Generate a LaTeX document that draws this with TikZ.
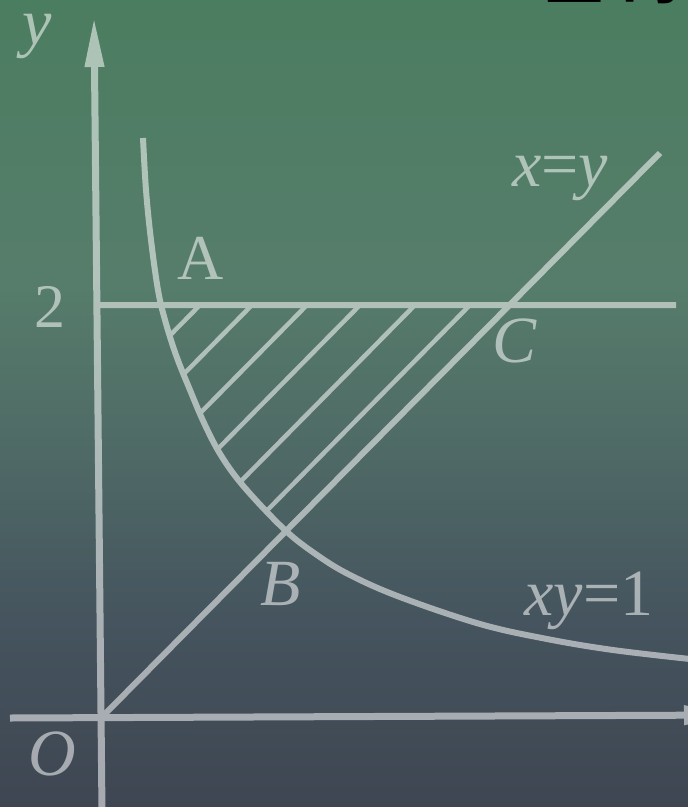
\documentclass[tikz,border=0pt]{standalone}
\usepackage{fontspec}
\setmainfont{Liberation Serif}
\newfontfamily\cjk{Noto Sans CJK SC}
\usetikzlibrary{arrows.meta,intersections}
\definecolor{bgA}{HTML}{4B7D60}
\definecolor{bgB}{HTML}{567D6B}
\definecolor{bgC}{HTML}{4F6A66}
\definecolor{bgD}{HTML}{45545E}
\definecolor{bgE}{HTML}{3E4652}
\tikzset{
  chalk/.style={draw=white, line width=6pt},
  axisline/.style={chalk, line width=7pt, -{Triangle[length=50pt,width=18pt]}},
  hatchline/.style={chalk, line width=4.5pt},
  lab/.style={text=white, font=\fontsize{66}{66}\selectfont\itshape, inner sep=0pt},
  cjklab/.style={text=black, font=\cjk\bfseries\fontsize{58}{58}\selectfont, inner sep=0pt},
}
\begin{document}
\begin{tikzpicture}[x=1pt,y=-1pt]
\useasboundingbox (0,0) rectangle (688,807);
% background
\fill[top color=bgA,bottom color=bgB] (0,0) rectangle (688,280);
\fill[top color=bgB,bottom color=bgC] (0,279.5) rectangle (688,450);
\fill[top color=bgC,bottom color=bgD] (0,449.5) rectangle (688,620);
\fill[top color=bgD,bottom color=bgE] (0,619.5) rectangle (688,807);
% cut-off heading
\node[cjklab, anchor=base] (t1) at (574,-2) {生};
\node[cjklab, anchor=base west] (t2) at (622,-2) {的};

\coordinate (o) at (102,717);
\coordinate (ybot) at (102,812);
\coordinate (ytip) at (94,17);
\coordinate (xleft) at (10,718);
\coordinate (xtip) at (734,715);
\coordinate (dend) at (660,153);
\coordinate (hl) at (98,305);
\coordinate (hr) at (676,305);

\begin{scope}[transparency group, opacity=0.54]
  % axes
  \draw[axisline] (ybot) -- (ytip);
  \draw[axisline] (xleft) -- (xtip);
  % y = 2 and x = y
  \draw[chalk] (hl) -- (hr);
  \draw[chalk] (o) -- (dend);
  % xy = 1
  \draw[chalk, name path=curve] plot[smooth, tension=0.6] coordinates {
    (143,138) (146,190) (151,240) (158,290) (165,320) (176,355) (190,390)
    (205,425) (222,457) (245,488) (285,530) (317,555) (350,575) (400,597)
    (480,624) (547,639) (613,650) (690,659)};
  % hatching
  \foreach \hx [count=\i] in {200,252,307,360,415,470} {
    \path[name path=hp\i] (\hx,305) -- ++(-320,324);
    \draw[hatchline, name intersections={of=curve and hp\i, by=he\i}]
      (\hx,305) -- (he\i);
  }
  % labels
  \node[lab] (ylab) at (37,36) {y};
  \node[lab, font=\fontsize{62}{62}\selectfont] (two) at (50,307) {2};
  \node[lab, font=\fontsize{64}{64}\selectfont] (A) at (201,258) {A};
  \node[lab] (B) at (281,584) {B};
  \node[lab] (C) at (515,341) {C};
  \node[lab] (O) at (52,754) {O};
  \node[lab] (lxy) at (560,178) {x\upshape=\itshape y};
  \node[lab] (lh) at (589,601) {xy\upshape=1};
\end{scope}
\end{tikzpicture}
\end{document}
